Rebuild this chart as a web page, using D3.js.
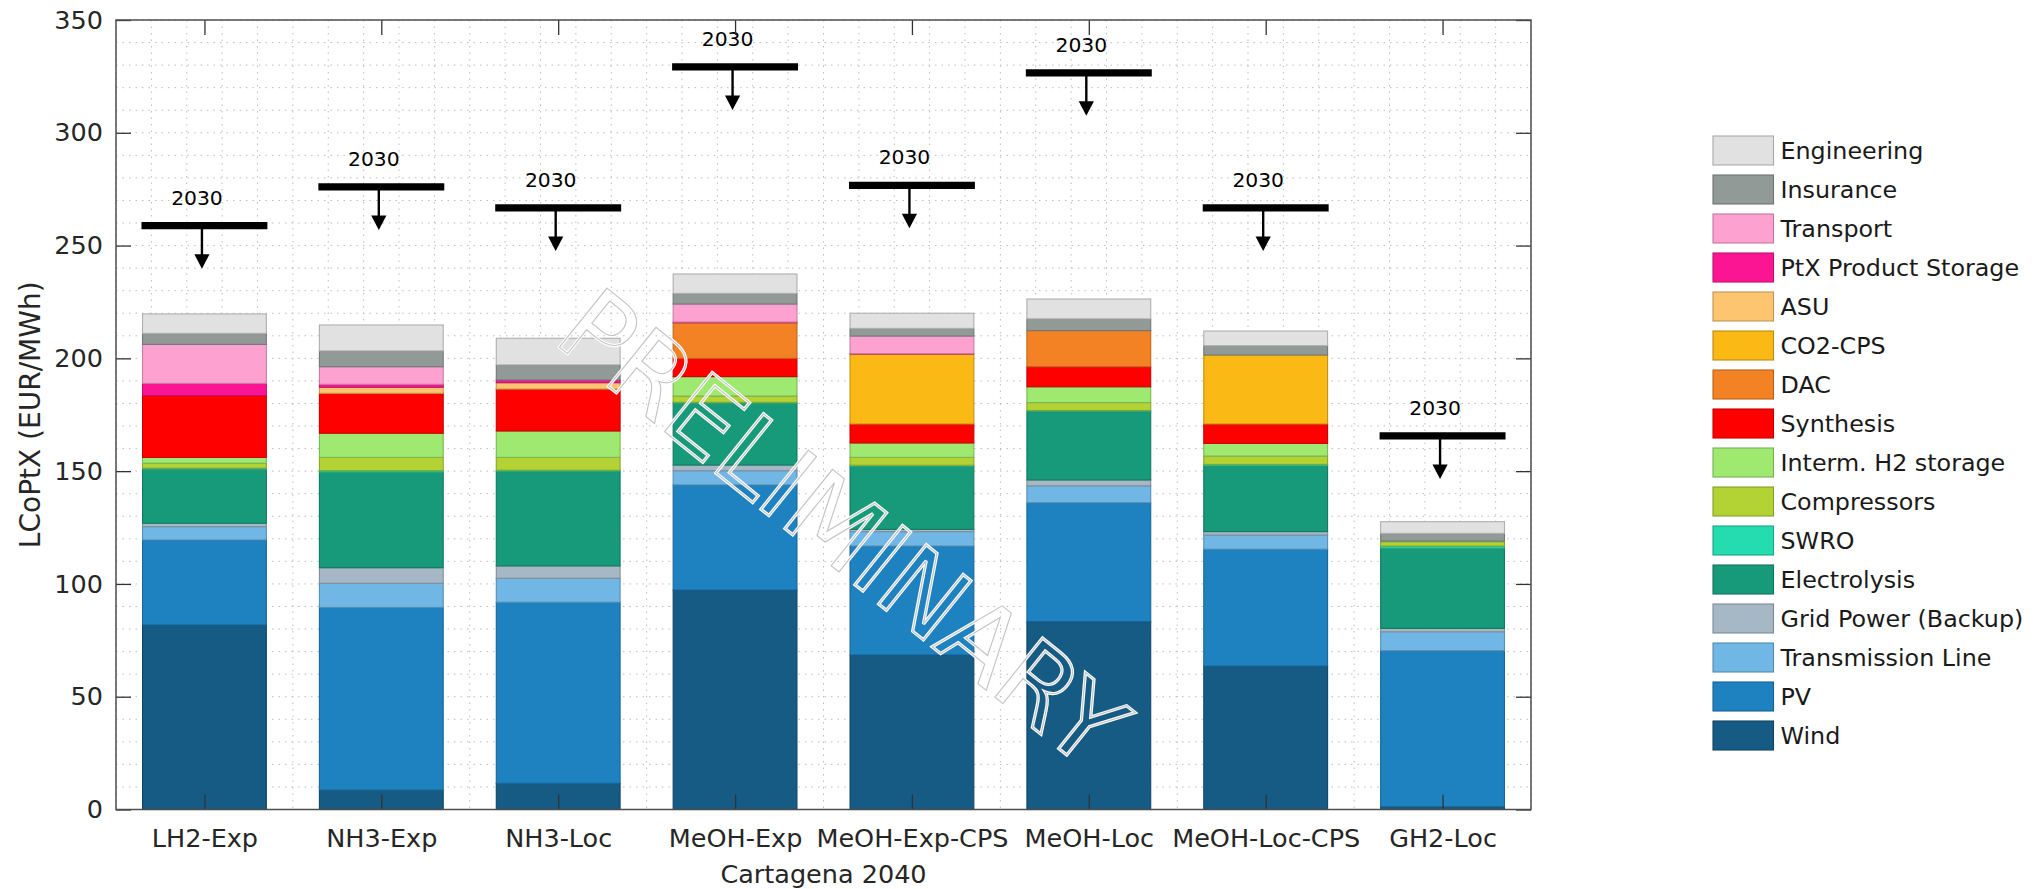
<!DOCTYPE html>
<html>
<head>
<meta charset="utf-8">
<script src="https://cdn.jsdelivr.net/npm/d3@7/dist/d3.min.js"></script>
<style>
  html, body { margin: 0; padding: 0; background: #fff; }
  svg { display: block; font-family: "DejaVu Sans", sans-serif; }
</style>
</head>
<body>
<svg id="chart" width="2039" height="889"></svg>
<script>
// ---------------- DATA ----------------
const categories = ["LH2-Exp", "NH3-Exp", "NH3-Loc", "MeOH-Exp", "MeOH-Exp-CPS", "MeOH-Loc", "MeOH-Loc-CPS", "GH2-Loc"];
const seriesNames = ["Wind", "PV", "Transmission Line", "Grid Power (Backup)", "Electrolysis", "SWRO",
  "Compressors", "Interm. H2 storage", "Synthesis", "DAC", "CO2-CPS", "ASU", "PtX Product Storage",
  "Transport", "Insurance", "Engineering"];

const wind         = [81.8,  8.6, 11.6, 97.3, 68.5, 83.3, 63.6,  1.2];
const pv           = [37.7, 81.0, 80.3, 46.6, 48.3, 52.7, 51.8, 69.2];
const transmission = [ 5.9, 10.7, 10.6,  6.3,  6.4,  7.5,  6.3,  8.4];
const gridPower    = [ 1.5,  6.9,  5.5,  2.5,  1.0,  2.6,  1.5,  1.5];
const electrolysis = [23.9, 42.3, 41.8, 27.4, 27.8, 30.3, 29.1, 35.5];
const swro         = [ 0.5,  0.7,  0.6,  0.4,  0.6,  0.5,  0.7,  1.0];
const compressors  = [ 2.2,  5.9,  5.7,  2.8,  3.5,  3.5,  3.7,  1.9];
const h2Storage    = [ 2.6, 10.7, 11.7,  8.6,  6.4,  7.0,  5.6,  0.3];
const synthesis    = [27.4, 17.7, 18.6,  8.1,  8.4,  8.9,  8.6,  0.0];
const dac          = [ 0.0,  0.0,  0.0, 15.8,  0.0, 16.0,  0.0,  0.0];
const co2cps       = [ 0.0,  0.0,  0.0,  0.0, 31.0,  0.0, 30.6,  0.0];
const asu          = [ 0.0,  2.7,  2.8,  0.0,  0.0,  0.0,  0.0,  0.0];
const ptxStorage   = [ 5.4,  1.3,  1.2,  0.3,  0.2,  0.0,  0.0,  0.0];
const transport    = [17.3,  7.8,  0.0,  8.0,  7.8,  0.0,  0.0,  0.0];
const insurance    = [ 4.9,  7.0,  6.7,  4.7,  3.4,  5.2,  4.1,  3.4];
const engineering  = [ 8.6, 11.5, 11.8,  8.6,  6.7,  8.8,  6.5,  5.2];

const ref2030 = [258.8, 276.0, 266.7, 329.2, 276.7, 326.6, 266.7, 165.6];
const ref2030Label = "2030";

const yTicks = [0, 50, 100, 150, 200, 250, 300, 350];
const xTitle = "Cartagena 2040";
const yTitle = "LCoPtX (EUR/MWh)";
const watermark = "PRELIMINARY";

// ---------------- STYLE ----------------
const seriesColors = ["#155b84", "#1f82c0", "#70b7e5", "#a6b8c6", "#179a7a", "#24dcb0",
  "#b3d335", "#9fe970", "#ff0000", "#f38224", "#fbb915", "#fdc56f", "#fc1593",
  "#fda1d1", "#929a98", "#e0e1e0"];

const seriesArrays = [wind, pv, transmission, gridPower, electrolysis, swro, compressors, h2Storage,
  synthesis, dac, co2cps, asu, ptxStorage, transport, insurance, engineering];

// build table
const table = categories.map((c, i) => {
  const row = { category: c, idx: i + 1 };
  seriesNames.forEach((s, k) => { row[s] = seriesArrays[k][i]; });
  return row;
});

const svg = d3.select("#chart");
const L = 116, R = 1531, T = 20, B = 809.5;

const x = d3.scaleLinear().domain([0.5, 8.5]).range([L, R]);
const y = d3.scaleLinear().domain([0, 350]).range([B, T]);
const color = d3.scaleOrdinal().domain(seriesNames).range(seriesColors);

// grid
const grid = svg.append("g").attr("class", "grid");
const hGrid = d3.range(0, 351, 10);
grid.selectAll("line.h").data(hGrid).join("line")
  .attr("x1", L).attr("x2", R)
  .attr("y1", d => y(d)).attr("y2", d => y(d))
  .attr("stroke", "#bdbdbd").attr("stroke-width", 1).attr("stroke-dasharray", "1.5,5");
const vGrid = d3.range(0.5, 8.51, 0.2);
grid.selectAll("line.v").data(vGrid).join("line")
  .attr("y1", T).attr("y2", B)
  .attr("x1", d => x(d)).attr("x2", d => x(d))
  .attr("stroke", "#bdbdbd").attr("stroke-width", 1).attr("stroke-dasharray", "1.5,5");

// bars
const stack = d3.stack().keys(seriesNames);
const stacked = stack(table);
const barHalf = 0.35;
const bars = svg.append("g").attr("class", "bars");
stacked.forEach(layer => {
  const c = color(layer.key);
  bars.append("g").selectAll("rect").data(layer.filter(d => d[1] - d[0] > 0)).join("rect")
    .attr("x", d => x(d.data.idx - barHalf))
    .attr("width", d => x(d.data.idx + barHalf) - x(d.data.idx - barHalf))
    .attr("y", d => y(d[1]))
    .attr("height", d => y(d[0]) - y(d[1]))
    .attr("fill", c)
    .attr("stroke", d3.color(c).darker(0.7))
    .attr("stroke-width", 1.1);
});

// watermark
const wm = svg.append("g").attr("transform", "translate(843,527) rotate(38.8)");
wm.append("text").text(watermark)
  .attr("text-anchor", "middle").attr("dy", "0.36em")
  .attr("font-size", 104).attr("font-family", "DejaVu Sans")
  .attr("fill", "none").attr("stroke", "#ffffff").attr("stroke-width", 3.2);
wm.append("text").text(watermark)
  .attr("text-anchor", "middle").attr("dy", "0.36em")
  .attr("font-size", 104).attr("font-family", "DejaVu Sans")
  .attr("fill", "none").attr("stroke", "#c4c4c4").attr("stroke-width", 1.1);

// 2030 markers
const mk = svg.append("g").attr("class", "markers");
ref2030.forEach((v, i) => {
  const cx = x(i + 1);
  const yy = y(v);
  mk.append("line")
    .attr("x1", x(i + 1 - 0.356)).attr("x2", x(i + 1 + 0.356))
    .attr("y1", yy).attr("y2", yy)
    .attr("stroke", "#000").attr("stroke-width", 7.3);
  const ax = cx - 2.5;
  mk.append("line")
    .attr("x1", ax).attr("x2", ax)
    .attr("y1", yy).attr("y2", yy + 30)
    .attr("stroke", "#000").attr("stroke-width", 2.4);
  mk.append("path")
    .attr("d", `M${ax - 7.6},${yy + 28.5} L${ax + 7.6},${yy + 28.5} L${ax},${yy + 43} Z`)
    .attr("fill", "#000");
  mk.append("text").text(ref2030Label)
    .attr("x", cx - 7.5).attr("y", yy - 21)
    .attr("text-anchor", "middle")
    .attr("font-size", 20.3).attr("fill", "#000");
});

// axes
const axisColor = "#4d4d4d";
const yAxis = svg.append("g").attr("transform", `translate(${L},0)`)
  .call(d3.axisLeft(y).tickValues(yTicks).tickSizeInner(-15).tickSizeOuter(0).tickPadding(13));
const yAxisR = svg.append("g").attr("transform", `translate(${R},0)`)
  .call(d3.axisRight(y).tickValues(yTicks).tickSizeInner(-15).tickSizeOuter(0).tickFormat(""));
const xAxis = svg.append("g").attr("transform", `translate(0,${B})`)
  .call(d3.axisBottom(x).tickValues(d3.range(1, 9)).tickFormat(d => categories[d - 1])
    .tickSizeInner(-15).tickSizeOuter(0).tickPadding(19.5));
const xAxisT = svg.append("g").attr("transform", `translate(0,${T})`)
  .call(d3.axisTop(x).tickValues(d3.range(1, 9)).tickSizeInner(-15).tickSizeOuter(0).tickFormat(""));

[yAxis, yAxisR, xAxis, xAxisT].forEach(a => {
  a.select(".domain").remove();
  a.selectAll(".tick line").attr("stroke", "#333").attr("stroke-width", 1.3);
  a.selectAll(".tick text").attr("fill", "#262626").attr("font-size", 25.5)
    .attr("font-family", "DejaVu Sans");
});

// box
svg.append("rect").attr("x", L).attr("y", T).attr("width", R - L).attr("height", B - T)
  .attr("fill", "none").attr("stroke", axisColor).attr("stroke-width", 1.5);

// titles
svg.append("text").text(xTitle)
  .attr("x", (L + R) / 2).attr("y", 882.5).attr("text-anchor", "middle")
  .attr("font-size", 25.5).attr("fill", "#262626");
svg.append("text").text(yTitle)
  .attr("transform", `translate(40,${(T + B) / 2}) rotate(-90)`)
  .attr("text-anchor", "middle")
  .attr("font-size", 28).attr("fill", "#262626");

// legend
const legendOrder = seriesNames.slice().reverse();
const lg = svg.append("g").attr("class", "legend");
legendOrder.forEach((s, i) => {
  const cy = 150.5 + 39 * i;
  lg.append("rect")
    .attr("x", 1713).attr("y", cy - 14.5).attr("width", 60.5).attr("height", 29)
    .attr("fill", color(s)).attr("stroke", d3.color(color(s)).darker(0.8)).attr("stroke-width", 1.1);
  lg.append("text").text(s)
    .attr("x", 1780.5).attr("y", cy).attr("dy", "0.36em")
    .attr("font-size", 23.8).attr("fill", "#1a1a1a");
});
</script>
</body>
</html>
